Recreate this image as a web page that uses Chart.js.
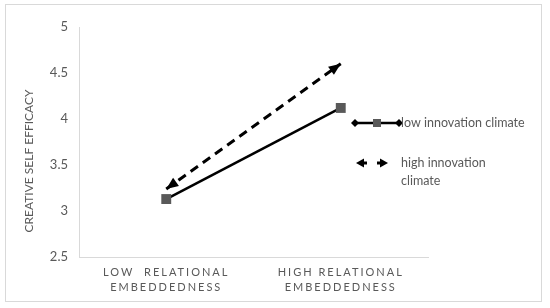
<!DOCTYPE html>
<html>
<head>
<meta charset="utf-8">
<script src="https://cdn.jsdelivr.net/npm/chart.js@4.4.1/dist/chart.umd.min.js"></script>
<style>
  body{margin:0;background:#fff;}
  #frame{position:absolute;left:5px;top:4px;width:535px;height:296px;border:1px solid #d9d9d9;}
  #wrap{position:absolute;left:0;top:0;width:550px;height:308px;}
</style>
</head>
<body>
<div id="frame"></div>
<div id="wrap"><canvas id="cv" width="550" height="308"></canvas></div>
<script>
// data
var categories = [["LOW  RELATIONAL","EMBEDDEDNESS"], ["HIGH RELATIONAL","EMBEDDEDNESS"]];
var lowClimate = [3.13, 4.12];
var highClimate = [3.24, 4.60];
var seriesNames = ["low innovation climate", ["high innovation", "climate"]];
var yTicks = [2.5, 3, 3.5, 4, 4.5, 5];

var grey = '#595959';
var fontFam = 'Lato, "Open Sans", sans-serif';

function arrowHead(ctx, x, y, ang, len, half){
    ctx.save();
    ctx.translate(x, y);
    ctx.rotate(ang);
    ctx.beginPath();
    ctx.moveTo(0, 0);
    ctx.lineTo(-len, -half);
    ctx.lineTo(-len, half);
    ctx.closePath();
    ctx.fillStyle = '#000';
    ctx.fill();
    ctx.restore();
}

function diamond(ctx, x, y, r){
    ctx.beginPath();
    ctx.moveTo(x, y-r); ctx.lineTo(x+r, y); ctx.lineTo(x, y+r); ctx.lineTo(x-r, y);
    ctx.closePath();
    ctx.fillStyle = '#000';
    ctx.fill();
}

// arrowheads on the dashed series
var arrowPlugin = {
    id: 'arrows',
    afterDatasetsDraw(chart){
        var pts = chart.getDatasetMeta(1).data;
        var ctx = chart.ctx;
        for(var i=0; i<pts.length-1; i++){
            var a = pts[i], b = pts[i+1];
            var ang = Math.atan2(b.y-a.y, b.x-a.x);
            arrowHead(ctx, b.x, b.y, ang, 12, 5);
            arrowHead(ctx, a.x, a.y, ang+Math.PI, 12, 5);
        }
    }
};

// legend at the right
var legendPlugin = {
    id: 'sideLegend',
    afterDraw(chart){
        var ctx = chart.ctx;
        ctx.save();
        // low innovation climate
        var y1 = 123;
        ctx.strokeStyle = '#000';
        ctx.lineWidth = 2.5;
        ctx.beginPath(); ctx.moveTo(355, y1); ctx.lineTo(399, y1); ctx.stroke();
        diamond(ctx, 355, y1, 4);
        diamond(ctx, 399, y1, 4);
        ctx.fillStyle = grey;
        ctx.fillRect(373, y1-4, 8, 8);
        ctx.font = '12.5px ' + fontFam;
        ctx.fillStyle = grey;
        ctx.textBaseline = 'middle';
        ctx.fillText(seriesNames[0], 401, y1);
        // high innovation climate
        var y2 = 163;
        ctx.lineWidth = 3;
        ctx.beginPath(); ctx.moveTo(362, y2); ctx.lineTo(367, y2); ctx.stroke();
        ctx.beginPath(); ctx.moveTo(377, y2); ctx.lineTo(382, y2); ctx.stroke();
        arrowHead(ctx, 356, y2, Math.PI, 8, 4.5);
        arrowHead(ctx, 388, y2, 0, 8, 4.5);
        ctx.fillStyle = grey;
        ctx.fillText(seriesNames[1][0], 401, y2);
        ctx.fillText(seriesNames[1][1], 401, y2+18);
        ctx.restore();
    }
};

var ctx = document.getElementById('cv').getContext('2d');
var myChart = new Chart(ctx, {
    type: 'line',
    data: {
        labels: categories,
        datasets: [
            {
                label: 'low innovation climate',
                data: lowClimate,
                borderColor: '#000',
                borderWidth: 2.5,
                pointStyle: 'rect',
                pointRadius: 7,
                pointBackgroundColor: grey,
                pointBorderColor: grey,
                pointBorderWidth: 0
            },
            {
                label: 'high innovation climate',
                data: highClimate,
                borderColor: '#000',
                borderWidth: 3,
                borderDash: [9, 6],
                pointRadius: 0
            }
        ]
    },
    options: {
        responsive: false,
        animation: false,
        events: [],
        layout: {padding: {left: 18, right: 122, top: 27, bottom: 11}},
        plugins: {legend: {display: false}, tooltip: {enabled: false}},
        scales: {
            x: {
                offset: true,
                grid: {display: false, drawTicks: false},
                border: {display: true, color: '#d9d9d9', width: 1},
                ticks: {color: grey, padding: 7, maxRotation: 0, font: {family: fontFam, size: 11, lineHeight: 1.45}},
                afterFit(scale){
                    scale.height = 40;
                    if(!scale._spaced){
                        scale._spaced = true;
                        var orig = scale.drawLabels.bind(scale);
                        scale.drawLabels = function(area){
                            var c = scale.ctx;
                            c.save();
                            c.letterSpacing = '2px';
                            orig(area);
                            c.restore();
                        };
                    }
                }
            },
            y: {
                min: yTicks[0],
                max: yTicks[yTicks.length-1],
                grid: {display: false, drawTicks: false},
                border: {display: true, color: '#d9d9d9', width: 1},
                ticks: {
                    stepSize: 0.5, color: grey, padding: 11,
                    font: {family: fontFam, size: 13},
                    callback: function(v){ return String(v); }
                },
                title: {display: true, text: 'CREATIVE SELF EFFICACY', color: grey, font: {family: fontFam, size: 12}, padding: 4},
                afterFit(scale){
                    scale.width = 61;
                    if(!scale._moved){
                        scale._moved = true;
                        var orig = scale.drawTitle.bind(scale);
                        scale.drawTitle = function(){
                            var c = scale.ctx;
                            c.save();
                            c.translate(0, 19);
                            orig();
                            c.restore();
                        };
                    }
                }
            }
        }
    },
    plugins: [arrowPlugin, legendPlugin]
});
</script>
</body>
</html>
